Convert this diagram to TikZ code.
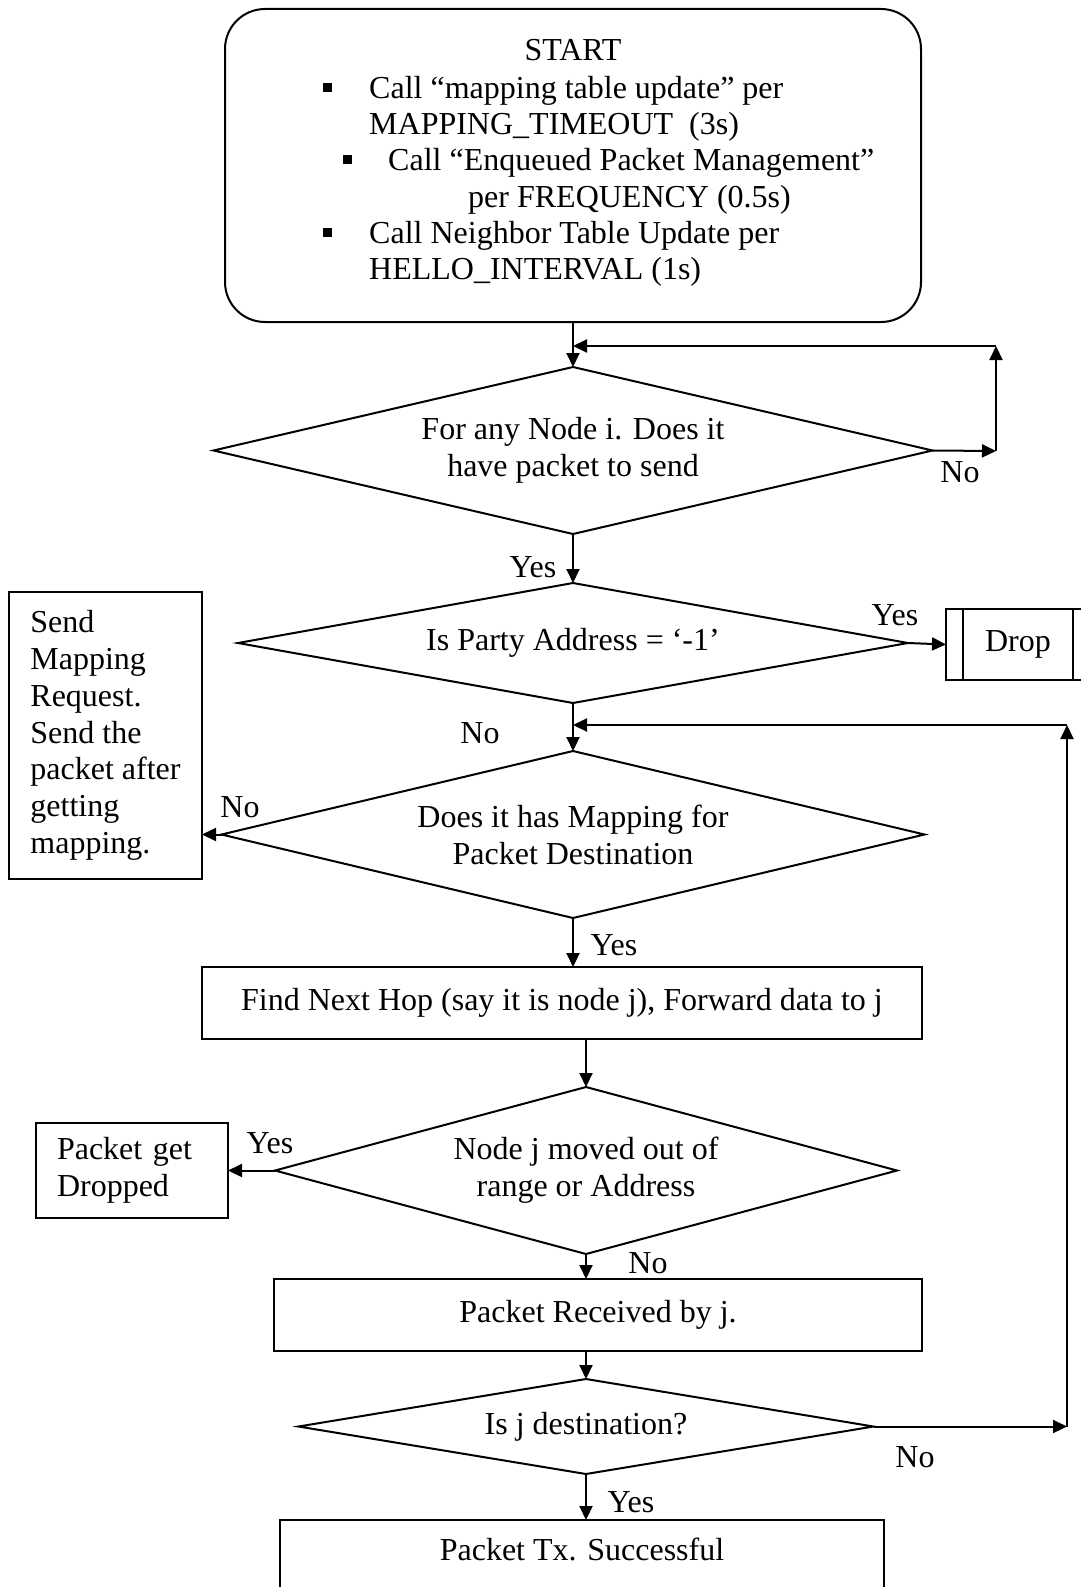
\documentclass[tikz,border=0pt]{standalone}
\usepackage{fontspec}
\setmainfont{Liberation Serif}
\usetikzlibrary{shapes.geometric,arrows.meta}
\begin{document}
\begin{tikzpicture}[x=1pt,y=-1pt,
  font=\fontsize{32}{36.8}\selectfont,
  line/.style={line width=2pt},
  arr/.style={line, -{Triangle[length=14pt,width=13pt]}},
  box/.style={draw, rectangle, line width=2pt, inner sep=0pt, outer sep=0pt},
  decision/.style={draw, diamond, line width=2pt, inner sep=0pt, outer sep=0pt, align=center},
  lbl/.style={inner sep=0pt},
  txt/.style={inner sep=0pt, anchor=base west},
  bullet/.style={fill, rectangle, minimum size=9pt, inner sep=0pt}
]
\useasboundingbox (0,0) rectangle (1080,1587);

% start block with its list of periodic calls
\node[box, rounded corners=40pt, minimum width=696pt, minimum height=313pt] (start) at (573,165.5) {};
\node[inner sep=0pt, anchor=base] (tstart) at (573,60) {START};
\node[bullet] (b1) at (327,87) {};
\node[txt] (t1) at (369,98) {Call “mapping table update” per};
\node[txt] (t2) at (369,134) {MAPPING\_TIMEOUT~ (3s)};
\node[bullet] (b2) at (347,159) {};
\node[txt] (t3) at (388,170) {Call “Enqueued Packet Management”};
\node[txt] (t4) at (468,207) {per FREQUENCY (0.5s)};
\node[bullet] (b3) at (327,232) {};
\node[txt] (t5) at (369,243) {Call Neighbor Table Update per};
\node[txt] (t6) at (369,279) {HELLO\_INTERVAL (1s)};

% decisions
\node[decision, aspect=4.3, minimum width=719pt, minimum height=167pt] (d1) at (573,450.5)
  {For any Node i. Does it\\have packet to send};
\node[decision, aspect=5.58, minimum width=670pt, minimum height=120pt] (d2) at (573,643)
  {Is Party Address = ‘-1’};
\node[decision, aspect=4.21, minimum width=703pt, minimum height=167pt] (d3) at (573,834.5)
  {Does it has Mapping for\\Packet Destination};
\node[decision, aspect=3.72, minimum width=622pt, minimum height=167pt] (d4) at (586,1170.5)
  {Node j moved out of\\range or Address};
\node[decision, aspect=6.05, minimum width=575pt, minimum height=95pt] (d5) at (586,1426.5)
  {Is j destination?};

% process boxes
\node[box, minimum width=144pt, minimum height=71pt] (drop) at (1018,644.5) {Drop};
\draw[line] ([xshift=17pt]drop.north west) -- ([xshift=17pt]drop.south west);
\draw[line] ([xshift=-17pt]drop.north east) -- ([xshift=-17pt]drop.south east);
\node[box, minimum width=193pt, minimum height=287pt, align=left] (sendmap) at (105.5,735.5)
  {Send\\Mapping\\Request.\\Send the\\packet after\\getting\\mapping.};
\node[box, minimum width=720pt, minimum height=72pt] (hop) at (562,1003)
  {Find Next Hop (say it is node j), Forward data to j};
\node[box, text width=150pt, inner xsep=21pt, minimum height=95pt, align=left] (dropped) at (132,1170.5)
  {Packet get\\Dropped};
\node[box, minimum width=648pt, minimum height=72pt] (recv) at (598,1315)
  {Packet Received by j.};
\node[box, anchor=north, minimum width=604pt, text height=22pt, text depth=45pt, inner ysep=18pt] (done) at (582,1520)
  {Packet Tx. Successful};

% loop corners
\coordinate (k1) at (996,451);
\coordinate (k2) at (996,346);
\coordinate (k3) at (1067,1426.5);
\coordinate (k4) at (1067,725);

% connectors
\draw[arr] (start.south) -- (d1.north);
\draw[arr] (d1.east) -- (k1);
\draw[arr] (k1) -- (k2);
\draw[arr] (k2) -- (start.south |- k2);
\draw[arr] (d1.south) -- (d2.north);
\draw[arr] (d2.east) -- (drop.west);
\draw[arr] (d2.south) -- (d3.north);
\draw[arr] (d3.west) -- (d3.west -| sendmap.east);
\draw[arr] (d3.south) -- (d3.south |- hop.north);
\draw[arr] (d4.north |- hop.south) -- (d4.north);
\draw[arr] (d4.west) -- (d4.west -| dropped.east);
\draw[arr] (d4.south) -- (d4.south |- recv.north);
\draw[arr] (d4.south |- recv.south) -- (d5.north);
\draw[arr] (d5.east) -- (k3);
\draw[arr] (k3) -- (k4);
\draw[arr] (k4) -- (d3.north |- k4);
\draw[arr] (d5.south) -- (d5.south |- done.north);

% branch labels
\node[lbl] (yes1) at (533,567) {Yes};
\node[lbl] (no1) at (960,472) {No};
\node[lbl] (yes2) at (895,615) {Yes};
\node[lbl] (no2) at (480,733) {No};
\node[lbl] (no3) at (240,807) {No};
\node[lbl] (yes3) at (614,945) {Yes};
\node[lbl] (yes4) at (270,1143) {Yes};
\node[lbl] (no4) at (648,1263) {No};
\node[lbl] (no5) at (915,1457) {No};
\node[lbl] (yes5) at (631,1502) {Yes};
\end{tikzpicture}
\end{document}
